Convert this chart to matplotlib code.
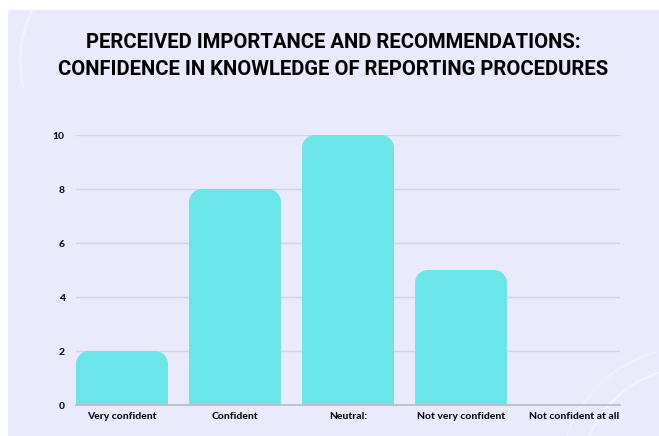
import matplotlib
matplotlib.use("Agg")
import matplotlib.pyplot as plt
from matplotlib.path import Path
from matplotlib.patches import PathPatch, Rectangle, Arc

# data
categories = ["Very confident", "Confident", "Neutral:", "Not very confident", "Not confident at all"]
counts = [2, 8, 10, 5, 0]
yticks = [0, 2, 4, 6, 8, 10]

TITLE = "PERCEIVED IMPORTANCE AND RECOMMENDATIONS:\nCONFIDENCE IN KNOWLEDGE OF REPORTING PROCEDURES"
BG = "#E9EBFC"
BAR = "#6CE5E8"
BAR_W = 0.814


def rounded_top_bar(x0, w, h, rx, ry):
    """bar path with rounded top corners (rx, ry in data units)"""
    k = 0.5523
    rx = min(rx, w / 2)
    ry = min(ry, h)
    x1 = x0 + w
    verts = [
        (x0, 0), (x0, h - ry),
        (x0, h - ry + k * ry), (x0 + rx - k * rx, h), (x0 + rx, h),
        (x1 - rx, h),
        (x1 - rx + k * rx, h), (x1, h - ry + k * ry), (x1, h - ry),
        (x1, 0), (x0, 0),
    ]
    codes = [Path.MOVETO, Path.LINETO,
             Path.CURVE4, Path.CURVE4, Path.CURVE4,
             Path.LINETO,
             Path.CURVE4, Path.CURVE4, Path.CURVE4,
             Path.LINETO, Path.CLOSEPOLY]
    return Path(verts, codes)


fig = plt.figure(figsize=(6.59, 4.36), dpi=100, facecolor="white")

# lavender panel with a thin white margin top/left
fig.patches.append(Rectangle((8 / 659, 0), 1, 426 / 436, transform=fig.transFigure,
                             facecolor=BG, edgecolor="none", zorder=-5))
# faint decorative swirls
for r, a in [(0.16, 0.45), (0.19, 0.3)]:
    fig.patches.append(Arc((0.2, 0.86), r * 2 * 436 / 659 * 1.6, r * 2 * 1.6, theta1=110, theta2=200,
                           transform=fig.transFigure, color="white", lw=1.5, alpha=a, zorder=-4))
    fig.patches.append(Arc((1.05, -0.1), r * 2 * 436 / 659 * 1.6, r * 2 * 1.6, theta1=100, theta2=160,
                           transform=fig.transFigure, color="white", lw=1.5, alpha=a, zorder=-4))

ax = fig.add_axes([76 / 659, 1 - 405 / 436, 544 / 659, 270 / 436])
ax.set_facecolor("none")

x = list(range(len(categories)))
ax.set_xlim(-BAR_W / 2, x[-1] + BAR_W / 2)
ax.set_ylim(0, 10)

# radius ~13 px
px_x = 544 / (x[-1] + BAR_W)
px_y = 270 / 10
for xi, v in zip(x, counts):
    if v <= 0:
        continue
    p = rounded_top_bar(xi - BAR_W / 2, BAR_W, v, 13 / px_x, 13 / px_y)
    ax.add_patch(PathPatch(p, facecolor=BAR, edgecolor="none", zorder=2))

ax.set_yticks(yticks)
ax.set_yticklabels([str(t) for t in yticks], fontsize=7.5, fontweight=900,
                   fontfamily="Lato", color="#111111")
ax.set_xticks(x)
ax.set_xticklabels(categories, fontsize=7.5, fontweight=900, fontfamily="Lato", color="#111111")
ax.tick_params(length=0, pad=5)
ax.tick_params(axis="y", pad=8)

ax.grid(axis="y", color="#D3D4E6", lw=1, zorder=1)
ax.set_axisbelow(True)
for s in ["top", "right", "left"]:
    ax.spines[s].set_visible(False)
ax.spines["bottom"].set_color("#B9BAC9")
ax.spines["bottom"].set_linewidth(1.2)

fig.text(0.506, 1 - 56 / 436, TITLE, ha="center", va="center", fontsize=14.6,
         fontweight="bold", fontfamily="Roboto", color="#000000", linespacing=1.55)

fig.savefig("out.png", dpi=100, facecolor="white")
